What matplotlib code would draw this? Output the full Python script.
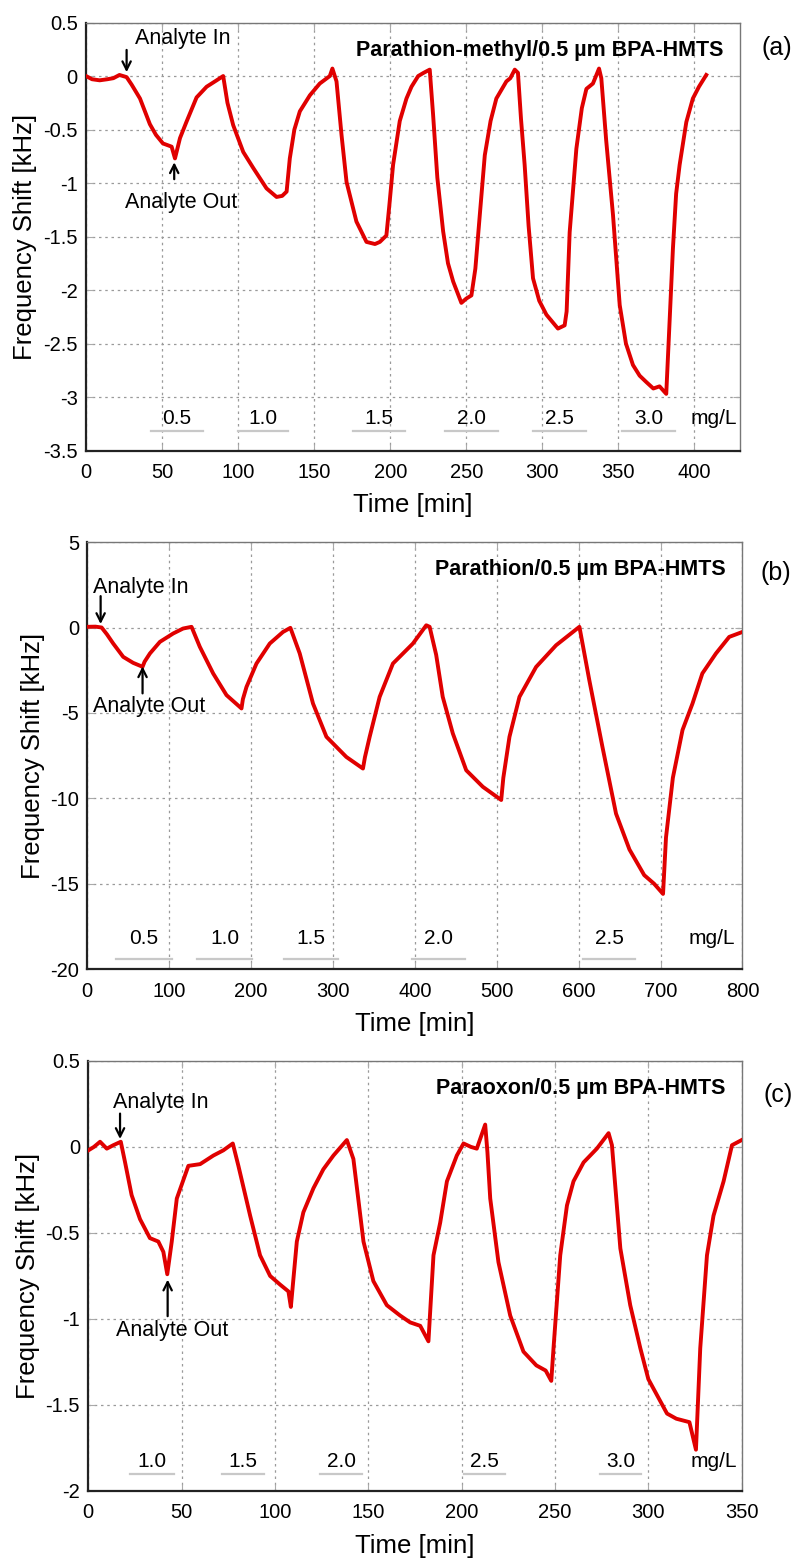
import matplotlib
matplotlib.use('Agg')
import matplotlib.pyplot as plt
from matplotlib.ticker import FuncFormatter

plt.rcParams['font.family'] = ['Liberation Sans', 'DejaVu Sans']
plt.rcParams['axes.unicode_minus'] = False

# (a) parathion-methyl
time_a = [0, 4, 9, 14, 18, 22, 26.7, 30, 35.5, 42, 46, 50.6, 56.3, 58.5, 61.8, 66, 72.7, 79.3,
          85.9, 90.2, 93, 96.8, 103.4, 110, 118.7, 125.3, 129, 131.9, 134, 137, 140.6, 147.2,
          153.7, 160.3, 162, 164.7, 168, 171.3, 177.8, 184.4, 190, 193.2, 197.5, 199.5, 201.9,
          206.3, 210.7, 214, 218.4, 222, 226, 228.2, 231, 234.8, 238, 241.4, 246.8, 250, 253.4,
          256, 258.9, 262.2, 266, 269.8, 276.4, 279, 281.9, 284, 286, 288.4, 291, 293.9, 298,
          302.7, 310.3, 314.7, 316, 318, 322.4, 326, 329, 333.3, 337.3, 338.8, 342, 346.5, 350.9,
          355, 359.6, 364, 368.4, 373, 377.1, 381.5, 384, 385.9, 388, 390.3, 394.7, 399, 403, 407.8]
shift_a = [0.0, -0.03, -0.04, -0.03, -0.02, 0.01, -0.01, -0.08, -0.21, -0.45, -0.55, -0.63, -0.66,
           -0.77, -0.58, -0.43, -0.2, -0.1, -0.04, 0.0, -0.25, -0.46, -0.71, -0.86, -1.05, -1.13,
           -1.12, -1.08, -0.77, -0.5, -0.33, -0.18, -0.07, 0.0, 0.07, -0.05, -0.55, -0.99, -1.36,
           -1.55, -1.57, -1.55, -1.49, -1.2, -0.83, -0.42, -0.21, -0.1, 0.0, 0.03, 0.06, -0.36,
           -0.95, -1.45, -1.75, -1.92, -2.12, -2.08, -2.05, -1.8, -1.30, -0.74, -0.42, -0.21,
           -0.05, -0.02, 0.06, 0.03, -0.4, -0.83, -1.4, -1.89, -2.1, -2.23, -2.36, -2.33, -2.2,
           -1.46, -0.68, -0.3, -0.12, -0.07, 0.07, -0.02, -0.6, -1.30, -2.14, -2.5, -2.70, -2.8,
           -2.86, -2.92, -2.90, -2.97, -2.2, -1.61, -1.1, -0.83, -0.43, -0.21, -0.1, 0.01]
conc_a = ['0.5', '1.0', '1.5', '2.0', '2.5', '3.0']
span_a = [(42.7, 77), (100, 133), (175.6, 210), (236, 271), (294, 329), (352.6, 387)]

# (b) parathion
time_b = [0, 10, 17.5, 24, 31.7, 43.9, 56, 67.5, 70, 76.5, 88.7, 104.9, 117, 127.3, 137.4, 153.7,
          170, 188.3, 190, 194.4, 206.6, 222.8, 239, 248, 259.4, 275.6, 292, 316.3, 336.6, 339,
          344.8, 357, 373.2, 397.6, 413.9, 418, 426, 434, 446.3, 462.7, 483, 505.4, 508, 515.5,
          527.7, 548, 572.4, 600.9, 613, 629, 645.6, 662, 680, 692, 703, 706.6, 715, 726.8, 739,
          751, 767.6, 783.8, 800]
shift_b = [0.04, 0.05, 0.0, -0.4, -0.94, -1.72, -2.07, -2.3, -2.0, -1.52, -0.84, -0.35, -0.06,
           0.04, -1.13, -2.69, -3.96, -4.74, -4.2, -3.48, -2.11, -0.94, -0.26, -0.02, -1.52,
           -4.45, -6.4, -7.58, -8.26, -7.6, -6.4, -4.06, -2.11, -0.94, 0.13, 0.04, -1.6, -4.06,
           -6.2, -8.36, -9.33, -10.1, -8.8, -6.4, -4.06, -2.31, -1.04, 0.04, -3.09, -6.99, -10.9,
           -13.0, -14.5, -15.0, -15.6, -12.3, -8.8, -6.0, -4.45, -2.69, -1.52, -0.55, -0.26]
conc_b = ['0.5', '1.0', '1.5', '2.0', '2.5']
span_b = [(35, 103), (134, 201), (240, 306), (397, 461), (605, 669)]

# (c) paraoxon
time_c = [0, 3, 6.3, 9.9, 13.4, 17.4, 19.7, 23.2, 27.7, 33, 37.5, 40.2, 42.3, 44.7, 47.4, 53.6,
          59.9, 67, 72.3, 77.4, 80.4, 86.7, 92, 97.4, 102.7, 107.2, 108.5, 111.7, 115.2, 120.6,
          125.9, 131.3, 138.5, 142, 147.4, 152.7, 159.9, 167, 172.4, 177.8, 182.2, 184.9, 188.5,
          192.1, 197.4, 201, 205, 208.1, 212.6, 213.8, 215.3, 219.7, 226, 233.1, 240, 245, 248,
          249.2, 252.8, 256.4, 259.9, 265.3, 272.4, 278.7, 280.5, 285, 290.3, 295.7, 300, 305,
          310, 315, 322, 325.5, 327.8, 331.4, 334.9, 340.3, 344.8, 350]
shift_c = [-0.02, 0.0, 0.03, -0.01, 0.01, 0.03, -0.09, -0.28, -0.42, -0.53, -0.55, -0.61, -0.74,
           -0.55, -0.30, -0.11, -0.10, -0.05, -0.02, 0.02, -0.11, -0.40, -0.63, -0.75, -0.80,
           -0.84, -0.93, -0.55, -0.38, -0.24, -0.13, -0.05, 0.04, -0.07, -0.55, -0.78, -0.92,
           -0.98, -1.02, -1.04, -1.13, -0.63, -0.44, -0.20, -0.05, 0.02, 0.0, -0.01, 0.13, -0.03,
           -0.30, -0.67, -0.98, -1.19, -1.27, -1.30, -1.36, -1.17, -0.63, -0.34, -0.20, -0.09,
           -0.01, 0.08, 0.01, -0.59, -0.92, -1.17, -1.35, -1.45, -1.55, -1.58, -1.60, -1.76,
           -1.17, -0.63, -0.40, -0.20, 0.01, 0.04]
conc_c = ['1.0', '1.5', '2.0', '2.5', '3.0']
span_c = [(22.4, 45.7), (71.6, 94), (124.3, 146.7), (201, 223), (274, 296)]

fig = plt.figure(figsize=(7.97, 15.65), dpi=100)


def panel(rect, t, y, xlim, xstep, ylim, ystep, title, letter, letter_xy,
          conc, spans, conc_y, line_y, unit_x, ann_in, ann_out):
    ax = fig.add_axes(rect)
    ax.plot(t, y, color='#e00000', lw=2.8, zorder=3)
    ax.set_xlim(*xlim)
    ax.set_ylim(*ylim)
    xt = [xlim[0] + i * xstep for i in range(int(round((xlim[1] - xlim[0]) / xstep)) + 1)]
    ax.set_xticks([v for v in xt if v <= xlim[1]])
    yt = [ylim[0] + i * ystep for i in range(int(round((ylim[1] - ylim[0]) / ystep)) + 1)]
    ax.set_yticks(yt)
    fmt = FuncFormatter(lambda v, p: '%g' % round(v, 3))
    ax.xaxis.set_major_formatter(fmt)
    ax.yaxis.set_major_formatter(fmt)
    ax.grid(True, ls=(0, (2, 3)), color='#9a9a9a', lw=0.9)
    ax.tick_params(direction='in', length=5, color='#aaaaaa', labelsize=14.5, pad=6,
                   top=True, right=True)
    ax.tick_params(axis='x', pad=9)
    for s in ['left', 'bottom']:
        ax.spines[s].set_color('#222222')
        ax.spines[s].set_linewidth(1.6)
    for s in ['top', 'right']:
        ax.spines[s].set_color('#777777')
        ax.spines[s].set_linewidth(1.0)
    ax.set_xlabel('Time [min]', fontsize=18.5, labelpad=8)
    ax.set_ylabel('Frequency Shift [kHz]', fontsize=18.5, labelpad=4)
    ax.text(0.975, 0.935, title, transform=ax.transAxes, ha='right', va='center',
            fontsize=15.5, fontweight='bold')
    fig.text(letter_xy[0], letter_xy[1], letter, ha='center', va='center', fontsize=18)
    for lab, (s0, s1) in zip(conc, spans):
        ax.text((s0 + s1) / 2, conc_y, lab, ha='center', va='center', fontsize=15)
        ax.plot([s0, s1], [line_y, line_y], color='#c8c8c8', lw=1.6)
    ax.text(unit_x, conc_y, 'mg/L', ha='center', va='center', fontsize=15)
    # analyte in / out arrows
    (xi, yi0, yi1, txi, tyi), (xo, yo0, yo1, txo, tyo) = ann_in, ann_out
    arrow = dict(arrowstyle='->,head_length=0.6,head_width=0.3', color='black', lw=1.6)
    ax.annotate('', xy=(xi, yi1), xytext=(xi, yi0), arrowprops=arrow)
    ax.text(txi, tyi, 'Analyte In', ha='left', va='center', fontsize=15.5)
    ax.annotate('', xy=(xo, yo1), xytext=(xo, yo0), arrowprops=arrow)
    ax.text(txo, tyo, 'Analyte Out', ha='left', va='center', fontsize=15.5)
    return ax


panel([0.1079, 0.7121, 0.8206, 0.2735], time_a, shift_a, (0, 430), 50, (-3.5, 0.5), 0.5,
      'Parathion-methyl/0.5 \u00b5m BPA-HMTS', '(a)', (0.975, 0.9693),
      conc_a, span_a, -3.2, -3.32, 413,
      (26.7, 0.27, 0.01, 32.5, 0.35), (58, -0.99, -0.78, 25.5, -1.18))

panel([0.1095, 0.3808, 0.8221, 0.2728], time_b, shift_b, (0, 800), 100, (-20, 5), 5,
      'Parathion/0.5 \u00b5m BPA-HMTS', '(b)', (0.9737, 0.634),
      conc_b, span_b, -18.2, -19.4, 762,
      (16.3, 2.0, 0.04, 6.6, 2.34), (67.5, -4.02, -2.11, 6.6, -4.6))

panel([0.1108, 0.0473, 0.8198, 0.2748], time_c, shift_c, (0, 350), 50, (-2, 0.5), 0.5,
      'Paraoxon/0.5 \u00b5m BPA-HMTS', '(c)', (0.976, 0.3003),
      conc_c, span_c, -1.83, -1.90, 335,
      (17, 0.21, 0.03, 13.4, 0.26), (42.5, -1.0, -0.755, 14.9, -1.07))

fig.savefig('out.png', dpi=100)
